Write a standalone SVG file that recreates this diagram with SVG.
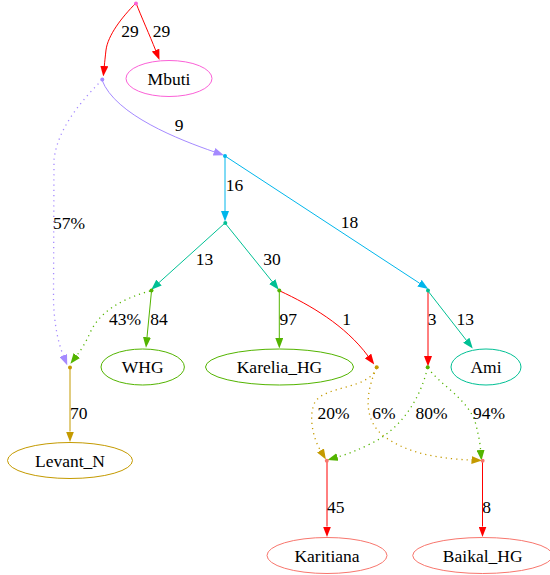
<svg xmlns="http://www.w3.org/2000/svg" width="550" height="575" viewBox="0 0 550 575">
<style>
text{font-family:"Times New Roman","Liberation Serif",Tinos,serif;font-size:17.5px;fill:#000;text-anchor:middle}
.e{fill:none;stroke-width:1}
.d{stroke-dasharray:1.2,4;stroke-width:1.3}
.n{fill:none;stroke-width:1}
.red{stroke:#FF0000}.pur{stroke:#A58AFF}.cya{stroke:#00B6EB}.tea{stroke:#00C094}.grn{stroke:#53B400}.gld{stroke:#C49A00}
</style>
<defs>
<marker id="m-red" viewBox="0 0 10.5 8" refX="0" refY="4" markerWidth="10.5" markerHeight="8" markerUnits="userSpaceOnUse" orient="auto"><path d="M0,0L10.5,4L0,8z" fill="#FF0000"/></marker>
<marker id="m-pur" viewBox="0 0 10.5 8" refX="0" refY="4" markerWidth="10.5" markerHeight="8" markerUnits="userSpaceOnUse" orient="auto"><path d="M0,0L10.5,4L0,8z" fill="#A58AFF"/></marker>
<marker id="m-cya" viewBox="0 0 10.5 8" refX="0" refY="4" markerWidth="10.5" markerHeight="8" markerUnits="userSpaceOnUse" orient="auto"><path d="M0,0L10.5,4L0,8z" fill="#00B6EB"/></marker>
<marker id="m-tea" viewBox="0 0 10.5 8" refX="0" refY="4" markerWidth="10.5" markerHeight="8" markerUnits="userSpaceOnUse" orient="auto"><path d="M0,0L10.5,4L0,8z" fill="#00C094"/></marker>
<marker id="m-grn" viewBox="0 0 10.5 8" refX="0" refY="4" markerWidth="10.5" markerHeight="8" markerUnits="userSpaceOnUse" orient="auto"><path d="M0,0L10.5,4L0,8z" fill="#53B400"/></marker>
<marker id="m-gld" viewBox="0 0 10.5 8" refX="0" refY="4" markerWidth="10.5" markerHeight="8" markerUnits="userSpaceOnUse" orient="auto"><path d="M0,0L10.5,4L0,8z" fill="#C49A00"/></marker>
</defs>
<g id="connectors">
<path class="e red" marker-end="url(#m-red)" d="M136,3C122,17 108,35 106,50C105.2,57 104.7,62 104.3,66"/>
<text x="130" y="37">29</text>
<path class="e red" marker-end="url(#m-red)" d="M136,3C141,16 150,36 155.6,50.2"/>
<text x="161.5" y="37">29</text>
<path class="e pur" marker-end="url(#m-pur)" d="M102,80C115,115 180,140 214,151.8"/>
<text x="179" y="131">9</text>
<path class="e pur d" marker-end="url(#m-pur)" d="M102,80C80,102 57,130 54,160L53.5,300C54,320 57,340 63.3,355.5"/>
<text x="69" y="228.5">57%</text>
<path class="e cya" marker-end="url(#m-cya)" d="M225,157L225,211"/>
<text x="234.5" y="190.5">16</text>
<path class="e cya" marker-end="url(#m-cya)" d="M225,156L419.5,283.2"/>
<text x="349.5" y="228">18</text>
<path class="e tea" marker-end="url(#m-tea)" d="M225,223L159,282.6"/>
<text x="204.5" y="265">13</text>
<path class="e tea" marker-end="url(#m-tea)" d="M225,223L272.2,281.6"/>
<text x="272" y="265">30</text>
<path class="e grn" marker-end="url(#m-grn)" d="M151.5,291L147,337.2"/>
<text x="159" y="325">84</text>
<path class="e grn d" marker-end="url(#m-grn)" d="M150,291C125,298 100,310 90,333C85.5,343 81,350 76.8,355.5"/>
<text x="125" y="325">43%</text>
<path class="e grn" marker-end="url(#m-grn)" d="M279.3,291L279.3,338"/>
<text x="288.3" y="325">97</text>
<path class="e red" marker-end="url(#m-red)" d="M280,291C310,305 345,325 368,356"/>
<text x="346.5" y="325">1</text>
<path class="e red" marker-end="url(#m-red)" d="M428,291L428,356"/>
<text x="432" y="325">3</text>
<path class="e tea" marker-end="url(#m-tea)" d="M428,291L466.3,340.2"/>
<text x="465.3" y="325">13</text>
<path class="e gld" marker-end="url(#m-gld)" d="M70,368L70,431.5"/>
<text x="78.7" y="419">70</text>
<path class="e gld d" marker-end="url(#m-gld)" d="M376.5,368C368,390 326,385 315,402C308,416 313,438 320.5,450.5"/>
<text x="333.5" y="419">20%</text>
<path class="e gld d" marker-end="url(#m-gld)" d="M376.5,368C366,392 362,420 385,437C410,455 445,459 471.5,460"/>
<text x="384" y="419">6%</text>
<path class="e grn d" marker-end="url(#m-grn)" d="M427.5,368C420,400 400,430 370,444C358,450 348,454 337.5,457"/>
<text x="431.5" y="419">80%</text>
<path class="e grn d" marker-end="url(#m-grn)" d="M428,368C440,385 470,400 476,425C479,437 480,443 480.6,450"/>
<text x="489" y="419">94%</text>
<path class="e red" marker-end="url(#m-red)" d="M327,461L327,526.5"/>
<text x="335.7" y="513">45</text>
<path class="e red" marker-end="url(#m-red)" d="M482.5,461L482.5,526.5"/>
<text x="486.7" y="513">8</text>
</g>
<g id="R"><circle cx="136" cy="3.5" r="2" fill="#FB61D7"/></g>
<g id="A"><circle cx="102.3" cy="79.5" r="2" fill="#A58AFF"/></g>
<g id="B"><circle cx="225" cy="156" r="2" fill="#00B6EB"/></g>
<g id="C"><circle cx="225.3" cy="223" r="2" fill="#00C094"/></g>
<g id="D"><circle cx="151.5" cy="290.5" r="2" fill="#53B400"/></g>
<g id="E"><circle cx="279.3" cy="290.5" r="2" fill="#53B400"/></g>
<g id="F"><circle cx="428" cy="290.5" r="2" fill="#00C094"/></g>
<g id="G"><circle cx="70" cy="367.5" r="2" fill="#C49A00"/></g>
<g id="H"><circle cx="376.7" cy="367.3" r="2" fill="#C49A00"/></g>
<g id="I"><circle cx="427.7" cy="367.3" r="2" fill="#53B400"/></g>
<g id="J"><circle cx="326.8" cy="460.7" r="2" fill="#F8766D"/></g>
<g id="K"><circle cx="482.6" cy="460.7" r="2" fill="#F8766D"/></g>
<g id="Mbuti"><ellipse class="n" cx="169" cy="78.5" rx="43" ry="18" stroke="#FB61D7"/><text x="169" y="84.5">Mbuti</text></g>
<g id="WHG"><ellipse class="n" cx="142.7" cy="367" rx="41.7" ry="18" stroke="#53B400"/><text x="142.7" y="373">WHG</text></g>
<g id="Karelia_HG"><ellipse class="n" cx="279.5" cy="367" rx="74" ry="18" stroke="#53B400"/><text x="279.5" y="373">Karelia_HG</text></g>
<g id="Ami"><ellipse class="n" cx="486" cy="367" rx="35" ry="18" stroke="#00C094"/><text x="486" y="373">Ami</text></g>
<g id="Levant_N"><ellipse class="n" cx="70" cy="460.5" rx="62.5" ry="18" stroke="#C49A00"/><text x="70" y="466.5">Levant_N</text></g>
<g id="Karitiana"><ellipse class="n" cx="327" cy="555.5" rx="60" ry="18" stroke="#F8766D"/><text x="327" y="561.5">Karitiana</text></g>
<g id="Baikal_HG"><ellipse class="n" cx="482.7" cy="555.5" rx="70" ry="18" stroke="#F8766D"/><text x="482.7" y="561.5">Baikal_HG</text></g>
</svg>
